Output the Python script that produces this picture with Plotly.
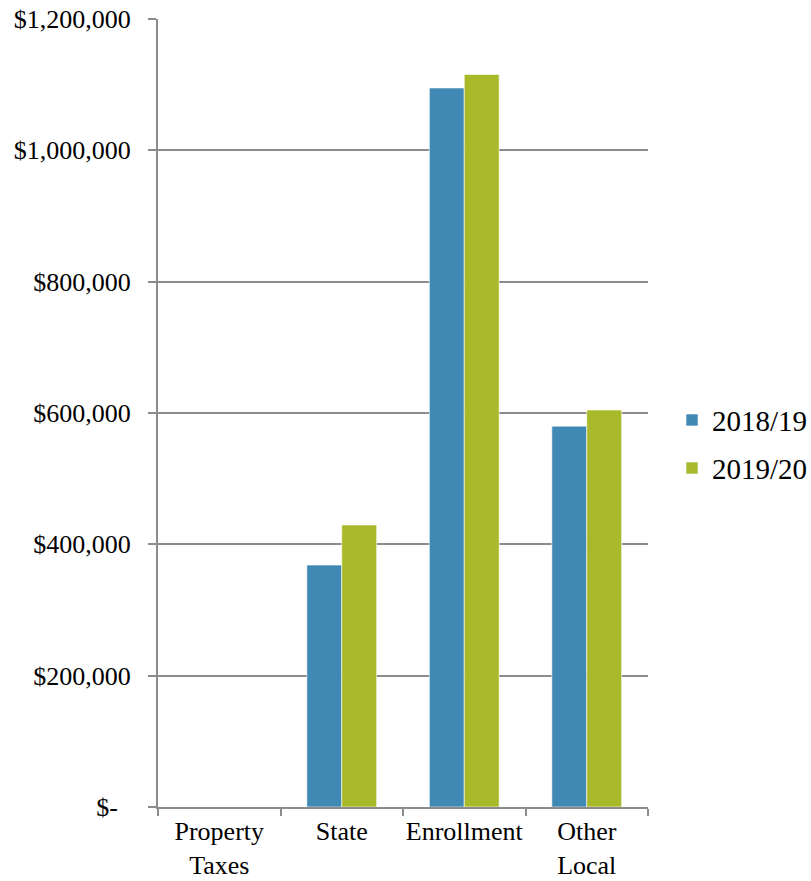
import plotly.graph_objects as go

categories = ["Property<br>Taxes", "State", "Enrollment", "Other<br>Local"]
series_names = ["2018/19", "2019/20"]
values_2018_19 = [0, 368500, 1095000, 580000]
values_2019_20 = [0, 429500, 1115500, 604500]
y_tick_values = [0, 200000, 400000, 600000, 800000, 1000000, 1200000]
y_tick_labels = ["$-\u00a0\u00a0", "$200,000", "$400,000", "$600,000",
                 "$800,000", "$1,000,000", "$1,200,000"]

colors = ["#4189B5", "#A8B92A"]
font_family = "Liberation Serif, Times New Roman, serif"
legend_ids = ["legend", "legend2"]
legend_y = [0.491, 0.430]

fig = go.Figure()
for name, vals, col, lid in zip(series_names, [values_2018_19, values_2019_20], colors, legend_ids):
    fig.add_trace(go.Bar(
        x=categories, y=vals, name=name, legend=lid,
        marker=dict(color=col, line=dict(color="rgba(255,255,255,0.6)", width=1)),
    ))

legend_common = dict(xref="paper", yref="paper", x=1.049, xanchor="left", yanchor="middle",
                     font=dict(size=29), bgcolor="rgba(0,0,0,0)", itemwidth=30)
fig.update_layout(
    width=811, height=881,
    paper_bgcolor="white", plot_bgcolor="white",
    margin=dict(l=158, r=163, t=19, b=74, autoexpand=False),
    barmode="group", bargap=0.43, bargroupgap=0,
    font=dict(family=font_family, size=26, color="black"),
    showlegend=True,
    legend=dict(y=legend_y[0], **legend_common),
    legend2=dict(y=legend_y[1], **legend_common),
)
fig.update_yaxes(
    range=[0, 1200000], tickvals=y_tick_values, ticktext=y_tick_labels,
    showgrid=True, gridcolor="#8C8C8C", gridwidth=2,
    showline=True, linecolor="#8C8C8C", linewidth=2,
    ticks="outside", ticklen=8, tickcolor="#8C8C8C", tickwidth=2,
    ticklabelstandoff=12, zeroline=False, automargin=False,
)
fig.update_xaxes(
    showline=True, linecolor="#8C8C8C", linewidth=2,
    ticks="outside", ticklen=7, tickcolor="#8C8C8C", tickwidth=2,
    tickson="boundaries", showgrid=False, tickangle=0, automargin=False,
)

fig.write_html(
    "out.html",
    config={"displayModeBar": False},
    post_script="document.body.style.margin='0';document.body.style.overflow='hidden';",
)
